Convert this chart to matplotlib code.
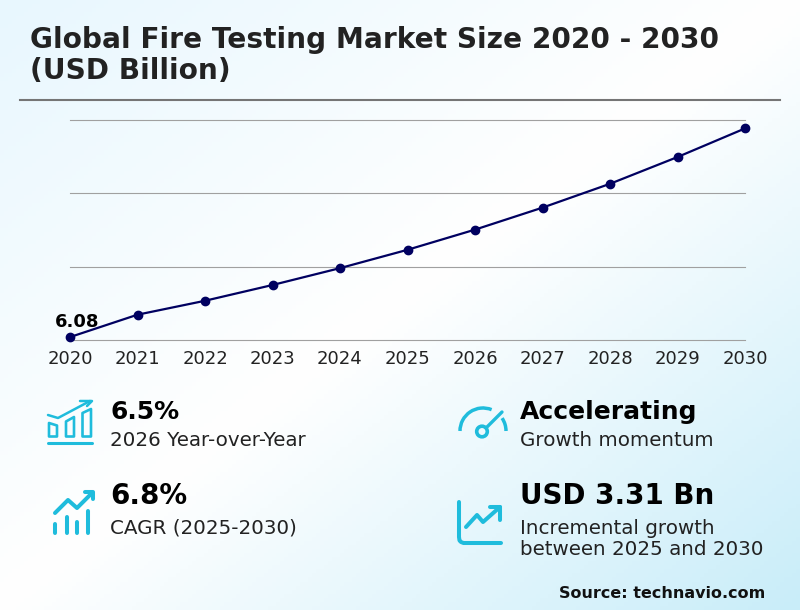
import numpy as np
import matplotlib
matplotlib.use('Agg')
import matplotlib.pyplot as plt
from matplotlib.colors import LinearSegmentedColormap
from matplotlib.patches import Arc, Circle, Polygon

years = [2020, 2021, 2022, 2023, 2024, 2025, 2026, 2027, 2028, 2029, 2030]
market_size = [6.08, 6.69, 7.07, 7.50, 7.96, 8.46, 9.01, 9.61, 10.26, 10.99, 11.77]
grid_values = [6, 8, 10, 12]

title_lines = ['Global Fire Testing Market Size 2020 - 2030', '(USD Billion)']
stat_big = ['6.5%', '6.8%', 'Accelerating', 'USD 3.31 Bn']
stat_small = ['2026 Year-over-Year', 'CAGR (2025-2030)', 'Growth momentum',
              'Incremental growth\nbetween 2025 and 2030']

W, H = 800, 610
CYAN = '#1fbcdc'
NAVY = '#000060'

fig = plt.figure(figsize=(W / 100, H / 100), dpi=100)

# background gradient, runs from top left to bottom right
bg = fig.add_axes([0, 0, 1, 1], zorder=0)
xx, yy = np.meshgrid(np.linspace(0, 1, 200), np.linspace(0, 1, 150))
cmap = LinearSegmentedColormap.from_list('bg', [(0, '#e8f7fe'), (0.5, '#ffffff'), (1, '#c9edf9')])
bg.imshow((xx + yy) / 2, cmap=cmap, aspect='auto', extent=(0, W, H, 0), vmin=0, vmax=1)
bg.set_xlim(0, W)
bg.set_ylim(H, 0)
bg.axis('off')

# line chart
ax = fig.add_axes([70 / W, 1 - 340 / H, 675 / W, 220 / H], zorder=1)
ax.patch.set_alpha(0)
ax.plot(years, market_size, color=NAVY, lw=1.6, marker='o', ms=6, clip_on=False, zorder=3)
for g in grid_values:
    ax.axhline(g, color='#a0a0a0', lw=0.8, zorder=1, clip_on=False)
ax.set_xlim(2020, 2030)
ax.set_ylim(6, 12)
ax.set_xticks(years)
ax.set_yticks([])
ax.tick_params(axis='x', length=0, pad=7, labelsize=13, labelcolor='#222222')
for s in ax.spines.values():
    s.set_visible(False)
ax.annotate(f'{market_size[0]:.2f}', (years[0], market_size[0]), xytext=(5, 4.5), textcoords='offset points',
            ha='center', va='bottom', fontsize=13, fontweight='bold', color='black')

# overlay in pixel coordinates for text and icons
ov = fig.add_axes([0, 0, 1, 1], zorder=2)
ov.set_xlim(0, W)
ov.set_ylim(H, 0)
ov.axis('off')

ov.text(30, 40, title_lines[0], fontsize=20.15, fontweight='bold', color='#222222', ha='left', va='center')
ov.text(30, 71, title_lines[1], fontsize=20.15, fontweight='bold', color='#222222', ha='left', va='center')
ov.plot([20, 780], [100, 100], color='#757575', lw=1.5)

big_pos = [(110, 412), (110, 496), (520, 412), (520, 496)]
big_size = [18, 20, 18, 20]
small_pos = [(110, 441), (110, 528), (520, 441), (520, 539)]
for (x, y), s, fs in zip(big_pos, stat_big, big_size):
    ov.text(x, y, s, fontsize=fs, fontweight='bold', color='black', ha='left', va='center')
for (x, y), s in zip(small_pos, stat_small):
    ov.text(x, y, s, fontsize=14.35, color='#222222', ha='left', va='center', linespacing=1.1)

ov.text(765, 594, 'Source: technavio.com', fontsize=11.5, fontweight='bold', color='#111111', ha='right', va='center')


def stroke(xs, ys, lw=1.8):
    ov.plot(xs, ys, color=CYAN, lw=lw, solid_capstyle='round', solid_joinstyle='round')


# icon 1: bars with arrow
stroke([48, 92], [442.5, 442.5], lw=2.2)
for x0, x1, y0, y1 in [(49, 57, 423, 425.5), (66, 74, 421.5, 417), (82.5, 91, 413, 409)]:
    ov.add_patch(Polygon([(x0, 436.5), (x0, y0), (x1, y1), (x1, 436.5)], fill=False, ec=CYAN, lw=1.9, joinstyle='round'))
stroke([48, 58, 90], [415, 418, 401])
stroke([80, 92, 87], [401, 401, 406])

# icon 2: small bars with trend arrow
for x, top in [(55, 524), (67, 517), (77, 522), (88, 511)]:
    stroke([x, x], [top, 533], lw=2.9)
stroke([55, 68, 77, 90], [513, 500, 508, 495], lw=2.9)
stroke([85, 93, 93], [492, 492, 499], lw=2.9)

# icon 3: gauge
ov.add_patch(Arc((483, 431), 46, 46, theta1=180, theta2=292, color=CYAN, lw=2.5))
ov.add_patch(Arc((483, 431), 46, 46, theta1=326, theta2=360, color=CYAN, lw=2.5))
ov.add_patch(Circle((482, 431.5), 5.3, fill=False, ec=CYAN, lw=2.6))
stroke([486, 502], [428, 412], lw=2.4)

# icon 4: axes with trend arrow
stroke([459, 459, 459.5, 461, 463.5, 501], [502, 537, 540.5, 542, 543, 543], lw=2.9)
stroke([466, 477, 483, 500], [527, 515, 522, 507], lw=2.9)
stroke([490, 500, 500], [507, 507, 520], lw=2.9)

fig.savefig('out.png', dpi=100)
